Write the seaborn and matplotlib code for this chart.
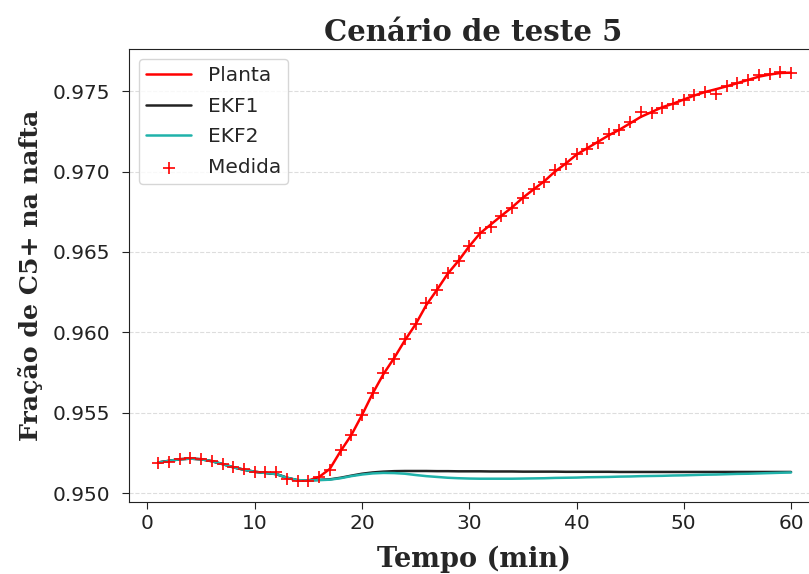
import matplotlib
matplotlib.use("Agg")
import matplotlib.pyplot as plt
import seaborn as sns
import pandas as pd

# dados (t = 1..60 min)
tempo = list(range(1, 61))

planta = [
    0.95190, 0.95200, 0.95210, 0.95214, 0.95210, 0.95198, 0.95180, 0.95160, 0.95145, 0.95132,
    0.95125, 0.95118, 0.95095, 0.95078, 0.95078, 0.95100, 0.95150, 0.95260, 0.95360, 0.95485,
    0.95620, 0.95740, 0.95840, 0.95950, 0.96050, 0.96170, 0.96265, 0.96365, 0.96445, 0.96535,
    0.96615, 0.96670, 0.96725, 0.96778, 0.96837, 0.96889, 0.96940, 0.97000, 0.97050, 0.97105,
    0.97145, 0.97185, 0.97225, 0.97260, 0.97300, 0.97340, 0.97370, 0.97400, 0.97422, 0.97448,
    0.97473, 0.97495, 0.97512, 0.97530, 0.97550, 0.97570, 0.97590, 0.97603, 0.97613, 0.97615,
]

medida = [
    0.95189, 0.95195, 0.95210, 0.95216, 0.95210, 0.95198, 0.95181, 0.95160, 0.95148, 0.95131,
    0.95129, 0.95131, 0.95085, 0.95073, 0.95077, 0.95102, 0.95143, 0.95265, 0.95360, 0.95486,
    0.95625, 0.95745, 0.95835, 0.95958, 0.96054, 0.96180, 0.96261, 0.96370, 0.96445, 0.96535,
    0.96620, 0.96655, 0.96725, 0.96775, 0.96837, 0.96889, 0.96935, 0.97010, 0.97045, 0.97107,
    0.97143, 0.97180, 0.97235, 0.97259, 0.97305, 0.97371, 0.97363, 0.97398, 0.97419, 0.97446,
    0.97475, 0.97492, 0.97481, 0.97529, 0.97550, 0.97570, 0.97600, 0.97606, 0.97620, 0.97612,
]

ekf1 = [
    0.95190, 0.95200, 0.95210, 0.95214, 0.95210, 0.95198, 0.95180, 0.95160, 0.95145, 0.95132,
    0.95125, 0.95118, 0.95095, 0.95080, 0.95078, 0.95082, 0.95085, 0.95095, 0.95108, 0.95120,
    0.95128, 0.95133, 0.95136, 0.95137, 0.95137, 0.95137, 0.95136, 0.95136, 0.95135, 0.95135,
    0.95135, 0.95134, 0.95134, 0.95134, 0.95133, 0.95133, 0.95133, 0.95133, 0.95132, 0.95132,
    0.95132, 0.95132, 0.95132, 0.95131, 0.95131, 0.95131, 0.95131, 0.95131, 0.95131, 0.95131,
    0.95131, 0.95131, 0.95131, 0.95131, 0.95131, 0.95131, 0.95131, 0.95131, 0.95131, 0.95131,
]

ekf2 = [
    0.95190, 0.95200, 0.95210, 0.95214, 0.95210, 0.95198, 0.95180, 0.95160, 0.95145, 0.95132,
    0.95125, 0.95118, 0.95095, 0.95080, 0.95078, 0.95080, 0.95083, 0.95092, 0.95105, 0.95115,
    0.95122, 0.95125, 0.95124, 0.95120, 0.95112, 0.95105, 0.95100, 0.95095, 0.95092, 0.95090,
    0.95089, 0.95089, 0.95089, 0.95089, 0.95090, 0.95091, 0.95092, 0.95094, 0.95095, 0.95096,
    0.95098, 0.95099, 0.95100, 0.95102, 0.95103, 0.95105, 0.95106, 0.95107, 0.95109, 0.95110,
    0.95112, 0.95114, 0.95115, 0.95117, 0.95119, 0.95120, 0.95122, 0.95124, 0.95126, 0.95128,
]

df = pd.DataFrame({"tempo": tempo, "planta": planta, "medida": medida,
                   "ekf1": ekf1, "ekf2": ekf2})

sns.set_style("ticks")
plt.rcParams['font.family'] = ['DejaVu Sans']

fig = plt.figure(figsize=(8.09, 5.74), dpi=100)
# eixo estendido além da borda direita (imagem original recortada)
ax = fig.add_axes([0.1595, 0.1254, 0.8517, 0.7892])

sns.lineplot(data=df, x="tempo", y="planta", color="red", lw=1.8, label="Planta", ax=ax)
sns.lineplot(data=df, x="tempo", y="ekf1", color="#222222", lw=1.8, label="EKF1", ax=ax)
sns.lineplot(data=df, x="tempo", y="ekf2", color="lightseagreen", lw=1.8, label="EKF2", ax=ax)
sns.scatterplot(data=df, x="tempo", y="medida", color="red", marker="+",
                s=80, linewidth=1.2, label="Medida", ax=ax, zorder=3)

ax.set_xlim(-1.72, 62.52)
ax.set_ylim(0.94944, 0.97762)
ax.set_xticks([0, 10, 20, 30, 40, 50, 60])
ax.set_yticks([0.950, 0.955, 0.960, 0.965, 0.970, 0.975])
ax.yaxis.grid(True, color="#dddddd", linestyle="--", linewidth=0.8)
ax.set_axisbelow(True)
ax.tick_params(labelsize=14.5, colors="#222222", length=5)
ax.tick_params(axis="y", pad=8.5)
for s in ax.spines.values():
    s.set_color("#222222")

ax.set_title("Cenário de teste 5", fontsize=21, fontweight="bold", family="DejaVu Serif")
ax.set_xlabel("Tempo (min)", fontsize=19.5, fontweight="bold", family="DejaVu Serif",
              labelpad=9)
ax.set_ylabel("Fração de C5+ na nafta", fontsize=18.2, fontweight="bold",
              family="DejaVu Serif")
ax.yaxis.set_label_coords(-0.125, 0.5)

ax.legend(loc="upper left", fontsize=14.5, frameon=True, labelspacing=0.58,
          handlelength=2.25, borderpad=0.35)

fig.savefig("out.png", dpi=100)
